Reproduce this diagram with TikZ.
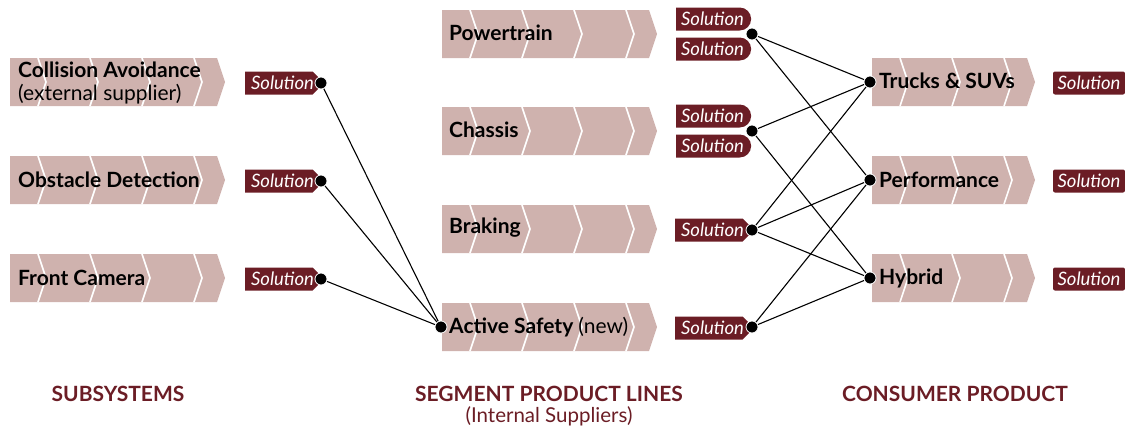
\documentclass[tikz,border=0pt]{standalone}
\usepackage{fontspec}
\setmainfont{Lato}
\usetikzlibrary{shapes.misc}

\definecolor{bandpink}{HTML}{CFB2AE}
\definecolor{maroon}{HTML}{6B1D25}

\tikzset{
  bandfill/.style={fill=bandpink},
  divider/.style={draw=white, line width=1.6pt},
  bandtext/.style={anchor=west, inner sep=0pt, align=left,
    font=\fontsize{21}{23}\selectfont\bfseries},
  solution/.style={fill=maroon, text=white, inner sep=0pt,
    minimum width=75pt, minimum height=23pt,
    font=\fontsize{18.5}{19}\selectfont\itshape},
  solpoint/.style={solution, chamfered rectangle,
    chamfered rectangle corners={north east,south east},
    chamfered rectangle xsep=4pt},
  solround/.style={solution, rounded rectangle, rounded rectangle left arc=none},
  solflat/.style={solution, rounded corners=2pt, minimum width=72pt},
  dot/.style={circle, fill=black, draw=white, line width=0.8pt,
    inner sep=0pt, minimum size=12pt},
  link/.style={line width=1.1pt},
  heading/.style={text=maroon, font=\fontsize{21}{23}\selectfont\bfseries},
  subheading/.style={text=maroon, font=\fontsize{20.5}{22}\selectfont}
}

% chevron band: left x, centre y, number of white dividers
\newcommand{\chevband}[3]{%
  \fill[bandfill] (#1,#2-24) -- ++({28+52*(#3-1)+23},0) -- ++(8,24)
    -- ++(-8,24) -- (#1,#2+24) -- cycle;
  \foreach \d in {1,...,#3}
    \draw[divider] ({#1+28+52*(\d-1)},#2-24) -- ++(8,24) -- ++(-8,24);
}

\begin{document}
\begin{tikzpicture}[x=1pt, y=-1pt]
\useasboundingbox (0,0) rectangle (1125,429);

% subsystems
\chevband{10}{82}{4}
\chevband{10}{180}{4}
\chevband{10}{278}{4}
\node[bandtext] (collision) at (18,83) {Collision Avoidance\\{\mdseries(external supplier)}};
\node[bandtext] (obstacle) at (18,180) {Obstacle Detection};
\node[bandtext] (camera) at (18,278) {Front Camera};

\node[solpoint] (sol-collision) at (282.5,83) {Solution};
\node[solpoint] (sol-obstacle) at (282.5,181) {Solution};
\node[solpoint] (sol-camera) at (282.5,279) {Solution};
\coordinate (out-collision) at (321,83);
\coordinate (out-obstacle) at (321,181);
\coordinate (out-camera) at (321,279);

% segment product lines
\chevband{442}{34}{4}
\chevband{442}{131}{4}
\chevband{442}{229}{4}
\chevband{442}{327}{4}
\node[bandtext] (powertrain) at (449,33) {Powertrain};
\node[bandtext] (chassis) at (449,130) {Chassis};
\node[bandtext] (braking) at (449,228) {Braking};
\node[bandtext] (safety) at (449,327) {Active Safety {\mdseries(new)}};
\coordinate (in-safety) at (441,327);

\node[solround] (sol-powertrain-a) at (712.5,19) {Solution};
\node[solround] (sol-powertrain-b) at (712.5,49) {Solution};
\node[solround] (sol-chassis-a) at (712.5,116) {Solution};
\node[solround] (sol-chassis-b) at (712.5,146) {Solution};
\node[solpoint] (sol-braking) at (712.5,230) {Solution};
\node[solpoint] (sol-safety) at (712.5,328) {Solution};
\coordinate (out-powertrain) at (752,34);
\coordinate (out-chassis) at (752,131);
\coordinate (out-braking) at (752,230);
\coordinate (out-safety) at (752,327);

% consumer products
\chevband{872}{82}{3}
\chevband{872}{180}{3}
\chevband{872}{278}{3}
\node[bandtext] (trucks) at (879,81) {Trucks \& SUVs};
\node[bandtext] (performance) at (879,180) {Performance};
\node[bandtext] (hybrid) at (879,278) {Hybrid};
\coordinate (in-trucks) at (870,82);
\coordinate (in-performance) at (870,180);
\coordinate (in-hybrid) at (870,278);

\node[solflat] (sol-trucks) at (1089,83) {Solution};
\node[solflat] (sol-performance) at (1089,181) {Solution};
\node[solflat] (sol-hybrid) at (1089,279) {Solution};

% links
\foreach \s in {collision,obstacle,camera}
  \draw[link] (out-\s) -- (in-safety);
\foreach \s/\t in {powertrain/trucks, powertrain/performance,
                   chassis/trucks, chassis/hybrid,
                   braking/trucks, braking/performance, braking/hybrid,
                   safety/performance, safety/hybrid}
  \draw[link] (out-\s) -- (in-\t);

\foreach \p in {out-collision,out-obstacle,out-camera,in-safety,
                out-powertrain,out-chassis,out-braking,out-safety,
                in-trucks,in-performance,in-hybrid}
  \node[dot] at (\p) {};

% column headings
\node[heading] (subsystems) at (118,394) {SUBSYSTEMS};
\node[heading] (segments) at (549,394) {SEGMENT PRODUCT LINES};
\node[subheading] (internal) at (549,416) {(Internal Suppliers)};
\node[heading] (consumer) at (955,394) {CONSUMER PRODUCT};
\end{tikzpicture}
\end{document}
